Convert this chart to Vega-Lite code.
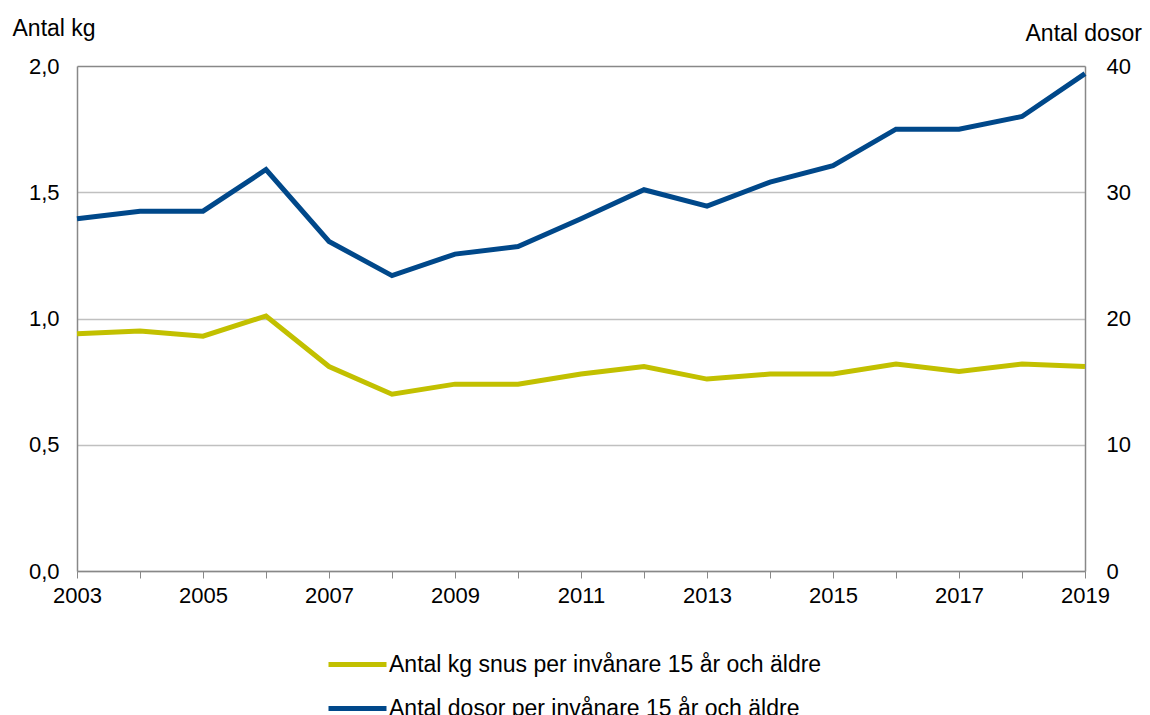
{
  "$schema": "https://vega.github.io/schema/vega-lite/v6.json",
  "width": 1008,
  "height": 505,
  "autosize": {"type": "none"},
  "padding": {"left": 77, "top": 66, "right": 65, "bottom": 144},
  "background": "white",
  "config": {
    "view": {"stroke": null},
    "font": "Liberation Sans",
    "axis": {"labelFont": "Liberation Sans", "titleFont": "Liberation Sans", "labelColor": "black", "titleColor": "black", "labelFontSize": 22, "titleFontSize": 23, "titleFontWeight": "normal"},
    "legend": {"labelFont": "Liberation Sans", "labelFontSize": 23, "labelColor": "black"}
  },
  "data": {
    "values": [
      {"year": 2003, "kg": 0.94, "dosor": 27.9},
      {"year": 2004, "kg": 0.95, "dosor": 28.5},
      {"year": 2005, "kg": 0.93, "dosor": 28.5},
      {"year": 2006, "kg": 1.01, "dosor": 31.8},
      {"year": 2007, "kg": 0.81, "dosor": 26.1},
      {"year": 2008, "kg": 0.70, "dosor": 23.4},
      {"year": 2009, "kg": 0.74, "dosor": 25.1},
      {"year": 2010, "kg": 0.74, "dosor": 25.7},
      {"year": 2011, "kg": 0.78, "dosor": 27.9},
      {"year": 2012, "kg": 0.81, "dosor": 30.2},
      {"year": 2013, "kg": 0.76, "dosor": 28.9},
      {"year": 2014, "kg": 0.78, "dosor": 30.8},
      {"year": 2015, "kg": 0.78, "dosor": 32.1},
      {"year": 2016, "kg": 0.82, "dosor": 35.0},
      {"year": 2017, "kg": 0.79, "dosor": 35.0},
      {"year": 2018, "kg": 0.82, "dosor": 36.0},
      {"year": 2019, "kg": 0.81, "dosor": 39.4}
    ]
  },
  "encoding": {
    "x": {
      "field": "year", "type": "quantitative",
      "scale": {"domain": [2003, 2019], "nice": false, "zero": false},
      "axis": {
        "title": null, "grid": false,
        "values": [2003,2004,2005,2006,2007,2008,2009,2010,2011,2012,2013,2014,2015,2016,2017,2018,2019],
        "labelExpr": "datum.value % 2 == 1 ? format(datum.value, 'd') : ''",
        "domainColor": "#888888", "domainWidth": 1.5,
        "tickColor": "#888888", "tickSize": 7, "tickWidth": 1,
        "labelPadding": 7, "labelFlush": false, "labelOverlap": false
      }
    }
  },
  "layer": [
    {
      "mark": {"type": "line", "strokeWidth": 5},
      "encoding": {
        "y": {
          "field": "kg", "type": "quantitative",
          "scale": {"domain": [0, 2], "nice": false},
          "axis": {
            "orient": "left",
            "values": [0, 0.5, 1, 1.5, 2],
            "labelExpr": "replace(format(datum.value, '.1f'), '.', ',')",
            "ticks": false, "labelPadding": 18,
            "domainColor": "#888888", "domainWidth": 1.5,
            "grid": true, "gridWidth": 1.5,
            "gridColor": {"condition": {"test": "datum.value == 2", "value": "#888888"}, "value": "#c0c0c0"},
            "title": "Antal kg", "titleAngle": 0, "titleAlign": "left", "titleBaseline": "alphabetic",
            "titleX": -65, "titleY": -31
          }
        },
        "color": {
          "datum": "Antal kg snus per invånare 15 år och äldre",
          "scale": {
            "domain": ["Antal kg snus per invånare 15 år och äldre", "Antal dosor per invånare 15 år och äldre"],
            "range": ["#c2c000", "#00488a"]
          },
          "legend": {
            "title": null, "orient": "none", "legendX": 249, "legendY": 567,
            "direction": "vertical", "symbolType": "stroke", "symbolSize": 3364,
            "symbolStrokeWidth": 5, "labelOffset": 0, "rowPadding": -18, "labelLimit": 700
          }
        }
      }
    },
    {
      "mark": {"type": "line", "strokeWidth": 5},
      "encoding": {
        "y": {
          "field": "dosor", "type": "quantitative",
          "scale": {"domain": [0, 40], "nice": false},
          "axis": {
            "orient": "right",
            "values": [0, 10, 20, 30, 40],
            "ticks": false, "labelPadding": 21, "grid": false,
            "domainColor": "#888888", "domainWidth": 1.5,
            "title": "Antal dosor", "titleAngle": 0, "titleAlign": "left", "titleBaseline": "alphabetic",
            "titleX": -60, "titleY": -26
          }
        },
        "color": {"datum": "Antal dosor per invånare 15 år och äldre"}
      }
    }
  ],
  "resolve": {"scale": {"y": "independent"}}
}
